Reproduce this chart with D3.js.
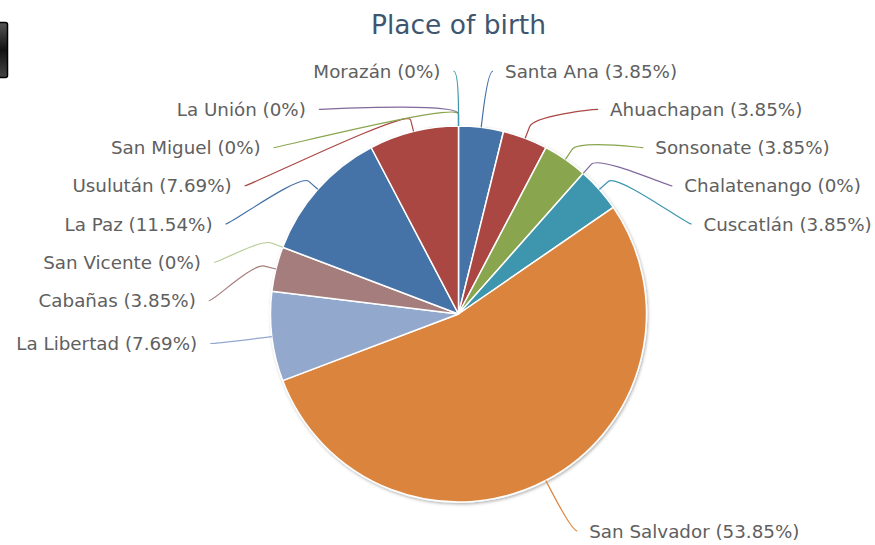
<!DOCTYPE html>
<html>
<head>
<meta charset="utf-8">
<script src="https://cdn.jsdelivr.net/npm/d3@7"></script>
<style>
  body { margin: 0; background: #fff; }
  svg { display: block; }
</style>
</head>
<body>
<svg width="875" height="545"></svg>
<script>
// data, clockwise from 12 o'clock
var regions = ["Santa Ana", "Ahuachapan", "Sonsonate", "Chalatenango", "Cuscatlán",
               "San Salvador", "La Libertad", "Cabañas", "San Vicente", "La Paz",
               "Usulután", "San Miguel", "La Unión", "Morazán"];
var shares = [3.85, 3.85, 3.85, 0, 3.85, 53.85, 7.69, 3.85, 0, 11.54, 7.69, 0, 0, 0];
var palette = ["#4572A7", "#AA4643", "#89A54E", "#80699B", "#3D96AE",
               "#DB843D", "#92A8CD", "#A47D7C", "#B5CA92"];
var title = "Place of birth";

var svg = d3.select("svg"),
    cx = 458.5, cy = 314, r = 188,
    labelR = r + 57,      // label circle
    breakOff = 12,        // connector bend just outside the pie
    lineH = 38.3,         // min spacing between labels
    topY = cy - labelR + 2,
    botY = cy + labelR - 2;

var data = regions.map(function(name, i) {
  return {name: name, value: shares[i], i: i, color: palette[i % palette.length]};
});

var defs = svg.append("defs");
var sh = defs.append("filter").attr("id", "shadow")
    .attr("x", "-10%").attr("y", "-10%").attr("width", "120%").attr("height", "120%");
sh.append("feDropShadow").attr("dx", 1).attr("dy", 1.5).attr("stdDeviation", 1.6)
    .attr("flood-color", "#000").attr("flood-opacity", 0.3);

var grad = defs.append("linearGradient").attr("id", "btn").attr("x1", 0).attr("y1", 0).attr("x2", 0).attr("y2", 1);
grad.append("stop").attr("offset", "0%").attr("stop-color", "#555");
grad.append("stop").attr("offset", "50%").attr("stop-color", "#111");
grad.append("stop").attr("offset", "100%").attr("stop-color", "#444");

// clipped export button at the left edge
svg.append("rect").attr("x", -6).attr("y", 22.5).attr("width", 13.5).attr("height", 55)
    .attr("rx", 2).attr("fill", "url(#btn)").attr("stroke", "#000").attr("stroke-width", 1.5);

svg.append("text")
    .attr("x", cx).attr("y", 34)
    .attr("text-anchor", "middle")
    .style("font", "26.5px 'DejaVu Sans', sans-serif")
    .attr("fill", "#3E576F")
    .text(title);

var pie = d3.pie().sort(null).value(function(d) { return d.value; })
    .startAngle(0).endAngle(2 * Math.PI);
var arcs = pie(data);

var arc = d3.arc().innerRadius(0).outerRadius(r);

var g = svg.append("g").attr("transform", "translate(" + cx + "," + cy + ")");

g.append("g").attr("filter", "url(#shadow)")
  .selectAll("path")
  .data(arcs.filter(function(a) { return a.data.value > 0; }))
  .enter().append("path")
    .attr("d", arc)
    .attr("fill", function(a) { return a.data.color; })
    .attr("stroke", "#fff")
    .attr("stroke-width", 1.5)
    .attr("stroke-linejoin", "round");

// label layout
function px(a, rad) { return cx + Math.sin(a) * rad; }
function py(a, rad) { return cy - Math.cos(a) * rad; }
function getX(y, left) {
  var dy = y - cy;
  return cx + (left ? -1 : 1) * Math.sqrt(Math.max(0, labelR * labelR - dy * dy));
}

arcs.forEach(function(a) {
  a.mid = (a.startAngle + a.endAngle) / 2;
  a.left = a.mid >= Math.PI;
  a.natY = py(a.mid, labelR);
});

[false, true].forEach(function(left) {
  var side = arcs.filter(function(a) { return a.left === left; });
  if (left) side.reverse();
  var prev = -Infinity;
  side.forEach(function(a) {
    a.y = Math.max(a.natY, prev + lineH, topY);
    prev = a.y;
  });
  var next = Infinity;
  side.slice().reverse().forEach(function(a) {
    a.y = Math.min(a.y, next - lineH, botY);
    next = a.y;
  });
  side.forEach(function(a) {
    var useNat = a.y <= topY + 1 || a.y >= botY - 1;
    a.x = getX(useNat ? a.natY : a.y, left);
  });
});

var labels = svg.append("g");

labels.selectAll("path")
  .data(arcs)
  .enter().append("path")
    .attr("fill", "none")
    .attr("stroke", function(a) { return a.data.color; })
    .attr("stroke-width", 1.2)
    .attr("d", function(a) {
      var x3 = px(a.mid, r), y3 = py(a.mid, r),
          x2 = px(a.mid, r + breakOff), y2 = py(a.mid, r + breakOff);
      var p = d3.path();
      p.moveTo(a.x + (a.left ? -5 : 5), a.y);
      p.bezierCurveTo(a.x, a.y, 2 * x2 - x3, 2 * y2 - y3, x2, y2);
      p.lineTo(x3, y3);
      return p.toString();
    });

labels.selectAll("text")
  .data(arcs)
  .enter().append("text")
    .attr("x", function(a) { return a.x + (a.left ? -18 : 17); })
    .attr("y", function(a) { return a.y; })
    .attr("dy", "0.36em")
    .attr("text-anchor", function(a) { return a.left ? "end" : "start"; })
    .style("font", "18.3px 'DejaVu Sans', sans-serif")
    .attr("fill", "#606060")
    .text(function(a) { return a.data.name + " (" + a.data.value + "%)"; });
</script>
</body>
</html>
